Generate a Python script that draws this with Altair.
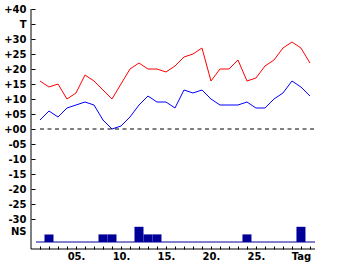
import altair as alt
import pandas as pd

days = list(range(1, 32))
t_max = [16, 14, 15, 10, 12, 18, 16, 13, 10, 15, 20, 22, 20, 20, 19, 21,
         24, 25, 27, 16, 20, 20, 23, 16, 17, 21, 23, 27, 29, 27, 22]
t_min = [3, 6, 4, 7, 8, 9, 8, 3, 0, 1, 4, 8, 11, 9, 9, 7,
         13, 12, 13, 10, 8, 8, 8, 9, 7, 7, 10, 12, 16, 14, 11]
precip = [0, 1, 0, 0, 0, 0, 0, 1, 1, 0, 0, 2, 1, 1, 0, 0,
          0, 0, 0, 0, 0, 0, 0, 1, 0, 0, 0, 0, 0, 2, 0]
y_ticks = list(range(-40, 41, 5))

temp_df = pd.DataFrame({
    "day": days * 2,
    "value": t_max + t_min,
    "series": ["max"] * len(days) + ["min"] * len(days),
})
precip_df = pd.DataFrame({"day": days, "precip": precip})
one = pd.DataFrame({"a": [0]})

FONT = "DejaVu Sans"
xscale = alt.Scale(domain=[0, 31.56], nice=False, zero=False)
yscale = alt.Scale(domain=[-40, 40], nice=False, zero=False)
pscale = alt.Scale(domain=[0, 10], range=[233, 157], nice=False, zero=True)

def x_axis():
    return alt.Axis(
        values=days, title=None, grid=False, domain=False, offset=-3,
        tickSize=3, tickColor="black", labelFont=FONT, labelFontSize=10,
        labelFontWeight="bold", labelColor="black", labelPadding=2,
        labelOverlap=False, labelFlush=False,
        labelExpr="datum.value % 5 == 0 ? (datum.value == 30 ? 'Tag' : (datum.value < 10 ? '0' : '') + datum.value + '.') : ''",
    )

def y_axis():
    return alt.Axis(
        values=y_ticks, title=None, grid=False, domain=False, offset=-4,
        tickSize=4, tickColor="black", labelFont=FONT, labelFontSize=10,
        labelFontWeight="bold", labelColor="black", labelPadding=5,
        labelOverlap=False, labelFlush=False,
        tickOpacity={"condition": {"test": "datum.value <= -35", "value": 0}, "value": 1},
        labelOffset={"condition": {"test": "datum.value == -35", "value": -2.5}, "value": 0},
        labelExpr="datum.value == 35 ? 'T\u00a0\u00a0\u00a0' : datum.value == -35 ? 'NS' : datum.value == -40 ? '' : (datum.value >= 0 ? '+' : '-') + (abs(datum.value) < 10 ? '0' : '') + abs(datum.value)",
    )

lines = alt.Chart(temp_df).mark_line(strokeWidth=1).encode(
    x=alt.X("day:Q", scale=xscale, axis=x_axis()),
    y=alt.Y("value:Q", scale=yscale, axis=y_axis()),
    color=alt.Color("series:N", scale=alt.Scale(domain=["max", "min"], range=["#ff0000", "#0000ff"]), legend=None),
)
zero_line = alt.Chart(one).mark_rule(color="black", strokeWidth=1, strokeDash=[4, 3.5]).encode(
    y=alt.Y(datum=0, scale=yscale, axis=y_axis()),
    x=alt.value(9), x2=alt.value(284),
)
frame_left = alt.Chart(one).mark_rule(color="black", strokeWidth=1).encode(
    x=alt.value(0), y=alt.value(0), y2=alt.value(240))
frame_bottom = alt.Chart(one).mark_rule(color="black", strokeWidth=1).encode(
    y=alt.value(240), x=alt.value(0), x2=alt.value(284))

temp_layer = alt.layer(lines, zero_line, frame_left, frame_bottom)

bars = alt.Chart(precip_df).transform_calculate(
    x0="datum.day - 0.5", x1="datum.day + 0.5"
).mark_bar(color="#000099").encode(
    x=alt.X("x0:Q", scale=xscale, axis=x_axis()),
    x2="x1:Q",
    y=alt.Y("precip:Q", scale=pscale, axis=None),
    y2=alt.Y2(datum=0),
)
base_line = alt.Chart(one).mark_rule(color="#000099", strokeWidth=1).encode(
    y=alt.Y(datum=0, scale=pscale, axis=None),
    x=alt.value(5), x2=alt.value(284),
)
precip_layer = alt.layer(bars, base_line)

chart = alt.layer(temp_layer, precip_layer).resolve_scale(y="independent").properties(
    width=284, height=240,
    background="white",
    autosize=alt.AutoSizeParams(type="none"),
    padding={"left": 31, "top": 9, "right": 25, "bottom": 16},
).configure_view(strokeWidth=0, stroke="transparent")

chart.save("out.html", embed_options={"renderer": "svg", "actions": False})
